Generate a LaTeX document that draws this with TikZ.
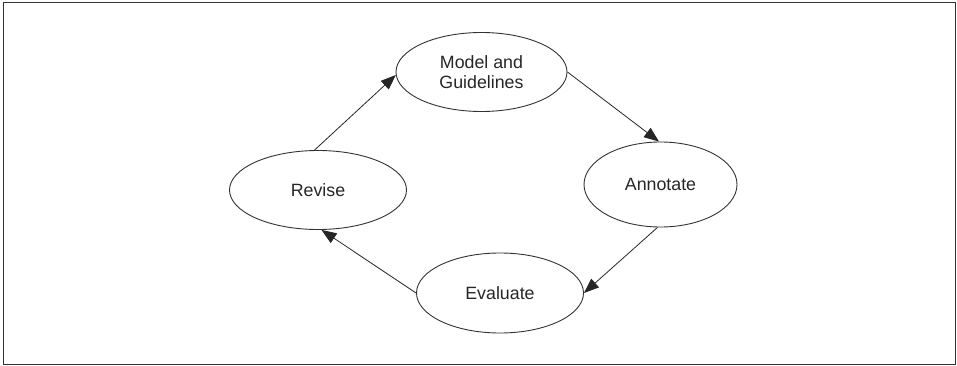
\documentclass[tikz,border=0pt]{standalone}
\usepackage{fontspec}
\setmainfont{Liberation Sans}
\usetikzlibrary{shapes.geometric,arrows.meta}
\tikzset{
  stage/.style={draw=black!80, line width=0.9pt, ellipse, inner sep=0pt, align=center,
    font=\fontsize{17.8}{20}\selectfont, text=black!85},
  flow/.style={draw=black!85, line width=0.8pt, -{Triangle[length=15pt,width=11.5pt]}},
  frame/.style={draw=black!80, line width=1pt}
}
\begin{document}
\begin{tikzpicture}[x=1pt,y=-1pt]
\useasboundingbox (0,0) rectangle (957,366);
\draw[frame] (3,3) rectangle (955,364);
\node[stage, minimum width=171pt, minimum height=79pt] (mod) at (481.5,72) {Model and\\Guidelines};
\node[stage, minimum width=153pt, minimum height=85pt] (ann) at (660.5,184.5) {Annotate};
\node[stage, minimum width=177pt, minimum height=79pt] (rev) at (318,190) {Revise};
\node[stage, minimum width=167pt, minimum height=80pt] (eva) at (500,293) {Evaluate};
\draw[flow] (rev.95) -- (mod.182);
\draw[flow] (mod.0) -- (ann.92);
\draw[flow] (ann.266) -- (eva.0);
\draw[flow] (eva.180) -- (rev.275);
\end{tikzpicture}
\end{document}
